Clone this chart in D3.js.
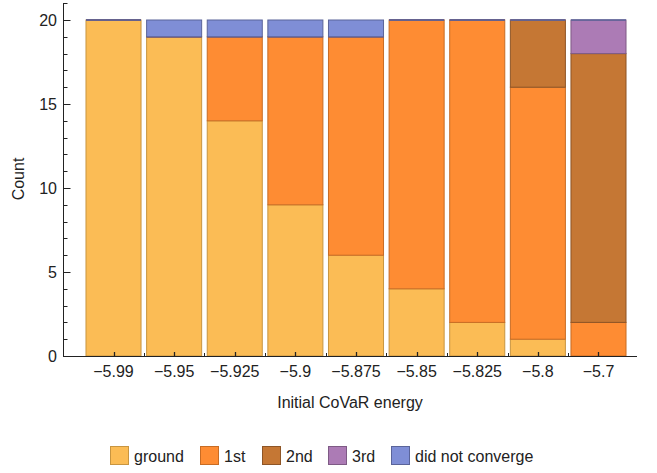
<!DOCTYPE html>
<html>
<head>
<meta charset="utf-8">
<script src="https://cdn.jsdelivr.net/npm/d3@7"></script>
<style>
  html, body { margin: 0; padding: 0; background: #fff; }
  svg { display: block; font-family: "Liberation Sans", Arial, sans-serif; }
</style>
</head>
<body>
<svg id="chart" width="657" height="473"></svg>
<script>
// Outcome counts per initial CoVaR energy
const categories = ["\u22125.99", "\u22125.95", "\u22125.925", "\u22125.9", "\u22125.875", "\u22125.85", "\u22125.825", "\u22125.8", "\u22125.7"];
const ground = [20, 19, 14, 9, 6, 4, 2, 1, 0];
const first  = [0, 0, 5, 10, 13, 16, 18, 15, 2];
const second = [0, 0, 0, 0, 0, 0, 0, 4, 16];
const third  = [0, 0, 0, 0, 0, 0, 0, 0, 2];
const noConv = [0, 1, 1, 1, 1, 0, 0, 0, 0];
const seriesNames = ["ground", "1st", "2nd", "3rd", "did not converge"];
const yTicks = [0, 5, 10, 15, 20];

const fills   = ["#fbbc55", "#fe8c33", "#c57734", "#ac7bb5", "#7f8ed6"];
const strokes = ["#c89540", "#c86c24", "#8e5526", "#7e5a85", "#5a649a"];

const rows = categories.map((c, i) => ({
  cat: c, ground: ground[i], "1st": first[i], "2nd": second[i], "3rd": third[i], "did not converge": noConv[i]
}));
const stacked = d3.stack().keys(seriesNames)(rows);

const svg = d3.select("#chart");
const x = d3.scaleBand().domain(categories).range([83.2, 628.8]).paddingInner(0.092).paddingOuter(0.046);
const y = d3.scaleLinear().domain([0, 20]).range([356, 20]);
const FS = 16;

// Stacked bars; empty segments still leave their edge line
stacked.forEach((layer, k) => {
  const g = svg.append("g");
  g.selectAll("rect").data(layer.filter(d => d[1] > d[0])).join("rect")
    .attr("x", d => x(d.data.cat))
    .attr("width", x.bandwidth())
    .attr("y", d => y(d[1]))
    .attr("height", d => y(d[0]) - y(d[1]))
    .attr("fill", fills[k])
    .attr("stroke", strokes[k])
    .attr("stroke-width", 1);
  g.selectAll("line").data(layer.filter(d => d[1] === d[0] && d[1] > 0)).join("line")
    .attr("x1", d => x(d.data.cat))
    .attr("x2", d => x(d.data.cat) + x.bandwidth())
    .attr("y1", d => y(d[1])).attr("y2", d => y(d[1]))
    .attr("stroke", strokes[k])
    .attr("stroke-width", 1.5);
});

const axisColor = "#222";

// Y axis
const yAxis = svg.append("g");
yAxis.append("line").attr("x1", 63.5).attr("x2", 63.5).attr("y1", 3).attr("y2", 356.5)
  .attr("stroke", axisColor).attr("stroke-width", 1);
d3.range(0, 22).forEach(v => {
  const major = v % 5 === 0;
  yAxis.append("line").attr("x1", 63.5).attr("x2", major ? 70.5 : 67.5)
    .attr("y1", Math.round(y(v)) + 0.5).attr("y2", Math.round(y(v)) + 0.5)
    .attr("stroke", axisColor).attr("stroke-width", 1);
});
yAxis.selectAll("text.ytick").data(yTicks).join("text")
  .attr("class", "ytick")
  .attr("x", 57).attr("y", d => y(d) + 6)
  .attr("text-anchor", "end").attr("font-size", FS).attr("fill", "#222")
  .text(d => d);

// X axis
const xAxis = svg.append("g");
xAxis.append("line").attr("x1", 63).attr("x2", 637).attr("y1", 356.5).attr("y2", 356.5)
  .attr("stroke", axisColor).attr("stroke-width", 1);
categories.forEach((c, i) => {
  const cx = Math.round(x(c) + x.bandwidth() / 2) + 0.5;
  xAxis.append("line").attr("x1", cx).attr("x2", cx).attr("y1", 356).attr("y2", 352)
    .attr("stroke", axisColor).attr("stroke-width", 1.3);
  if (i > 0) {
    const bx = Math.round(x(c) - x.step() * x.paddingInner() / 2) + 0.5;
    xAxis.append("line").attr("x1", bx).attr("x2", bx).attr("y1", 356).attr("y2", 353)
      .attr("stroke", axisColor).attr("stroke-width", 1);
  }
});
xAxis.selectAll("text.xtick").data(categories).join("text")
  .attr("class", "xtick")
  .attr("x", d => x(d) + x.bandwidth() / 2).attr("y", 377)
  .attr("text-anchor", "middle").attr("font-size", FS).attr("fill", "#222")
  .text(d => d);

// Axis titles
svg.append("text").attr("x", 350).attr("y", 408).attr("text-anchor", "middle")
  .attr("font-size", FS).attr("fill", "#222").text("Initial CoVaR energy");
svg.append("text").attr("transform", "translate(24,179) rotate(-90)").attr("text-anchor", "middle")
  .attr("font-size", FS).attr("fill", "#222").text("Count");

// Legend
const legendX = [110, 200, 262, 328, 391];
const legend = svg.append("g");
seriesNames.forEach((name, k) => {
  legend.append("rect").attr("x", legendX[k] + 0.5).attr("y", 446.5).attr("width", 18).attr("height", 18)
    .attr("fill", fills[k]).attr("stroke", strokes[k]).attr("stroke-width", 1);
  legend.append("text").attr("x", legendX[k] + 24).attr("y", 462)
    .attr("font-size", FS).attr("fill", "#222").text(name);
});
</script>
</body>
</html>
